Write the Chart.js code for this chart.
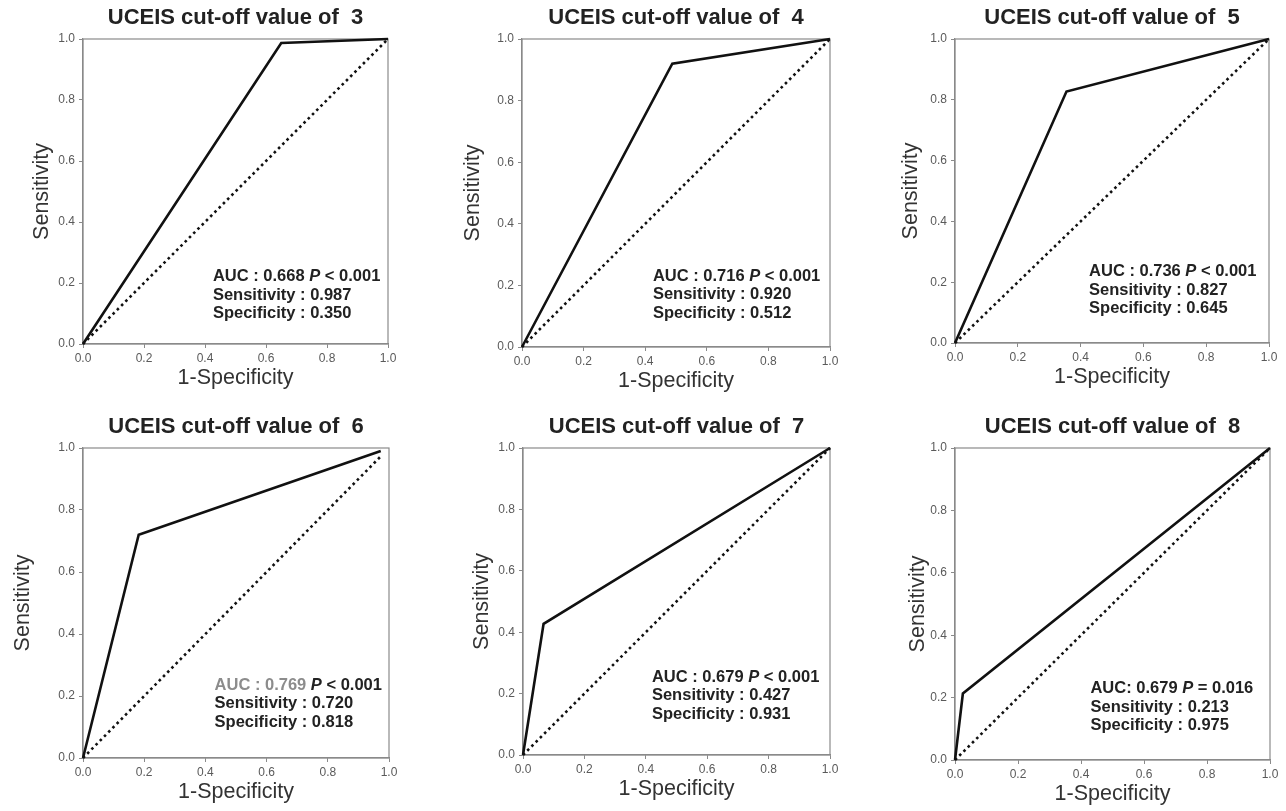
<!DOCTYPE html>
<html>
<head>
<meta charset="utf-8">
<script src="https://cdn.jsdelivr.net/npm/chart.js@4.4.1/dist/chart.umd.min.js"></script>
<style>
  body { margin: 0; background: #fff; overflow: hidden; width: 1286px; height: 811px; }
  .panel { position: absolute; }
</style>
</head>
<body>
<div id="wrap"></div>
<script>
const FONT = "'Liberation Sans', Arial, Helvetica, sans-serif";

// data
const cutoffs = [3, 4, 5, 6, 7, 8];
const rocX = [
  [0, 0.650, 1],
  [0, 0.488, 1],
  [0, 0.355, 1],
  [0, 0.182, 0.973],
  [0, 0.067, 1],
  [0, 0.025, 1]
];
const rocY = [
  [0, 0.987, 1],
  [0, 0.920, 1],
  [0, 0.827, 1],
  [0, 0.720, 0.990],
  [0, 0.427, 1],
  [0, 0.213, 1]
];
const refEnd = [1, 1, 1, 0.975, 1, 1];
const aucLabels = ['AUC : ', 'AUC : ', 'AUC : ', 'AUC : ', 'AUC : ', 'AUC: '];
const aucValues = ['0.668', '0.716', '0.736', '0.769', '0.679', '0.679'];
const pValues = ['< 0.001', '< 0.001', '< 0.001', '< 0.001', '< 0.001', '= 0.016'];
const sensValues = ['0.987', '0.920', '0.827', '0.720', '0.427', '0.213'];
const specValues = ['0.350', '0.512', '0.645', '0.818', '0.931', '0.975'];
const tickValues = [0, 0.2, 0.4, 0.6, 0.8, 1.0];

// layout: plot area in page pixels [left, top, right, bottom]
const plotBox = [
  [83, 39, 388, 344],
  [522, 39, 830, 347],
  [955, 39, 1269, 343],
  [83, 448, 389, 758],
  [523, 448, 830, 755],
  [955, 448, 1270, 760]
];
const yTitleGap = [41, 49, 44, 60, 41, 37];
const notePos = [
  [0.426, 0.22],
  [0.425, 0.23],
  [0.427, 0.234],
  [0.43, 0.235],
  [0.42, 0.254],
  [0.43, 0.228]
];

const Y_AXIS_W = 80, X_AXIS_H = 50, TITLE_H = 39, PAD_R = 15;

const framePlugin = {
  id: 'frame',
  beforeDatasetsDraw(chart) {
    const { ctx, chartArea: a } = chart;
    ctx.save();
    ctx.strokeStyle = '#8a8a8a';
    ctx.lineWidth = 1.2;
    ctx.strokeRect(a.left, a.top, a.right - a.left, a.bottom - a.top);
    ctx.restore();
  }
};

const notePlugin = {
  id: 'note',
  afterDatasetsDraw(chart, args, opts) {
    const i = opts.idx;
    const { ctx, scales } = chart;
    let x0 = scales.x.getPixelForValue(notePos[i][0]);
    let y = scales.y.getPixelForValue(notePos[i][1]);
    const bold = 'bold 16.5px ' + FONT;
    const italic = 'italic bold 16.5px ' + FONT;
    const aucColor = i === 3 ? '#8c8c8c' : '#222';
    const lines = [
      [[aucLabels[i] + aucValues[i] + ' ', bold, aucColor], ['P', italic, '#222'], [' ' + pValues[i], bold, '#222']],
      [['Sensitivity : ' + sensValues[i], bold, '#222']],
      [['Specificity : ' + specValues[i], bold, '#222']]
    ];
    ctx.save();
    ctx.textBaseline = 'middle';
    ctx.textAlign = 'left';
    lines.forEach(segs => {
      let x = x0;
      segs.forEach(s => {
        ctx.font = s[1];
        ctx.fillStyle = s[2];
        ctx.fillText(s[0], x, y);
        x += ctx.measureText(s[0]).width;
      });
      y += 18.5;
    });
    ctx.restore();
  }
};

function axisBase() {
  return {
    type: 'linear',
    min: 0,
    max: 1,
    afterBuildTicks: scale => { scale.ticks = tickValues.map(v => ({ value: v })); },
    ticks: {
      callback: v => Number(v).toFixed(1),
      font: { size: 12, family: FONT },
      color: '#5a5a5a',
      maxRotation: 0,
      autoSkip: false
    },
    grid: { drawOnChartArea: false, drawTicks: true, tickLength: 4, color: '#8a8a8a' },
    border: { color: '#8a8a8a', width: 1.2 }
  };
}

const wrap = document.getElementById('wrap');

cutoffs.forEach((c, i) => {
  const [L, T, R, B] = plotBox[i];
  const div = document.createElement('div');
  div.className = 'panel';
  div.style.left = (L - Y_AXIS_W) + 'px';
  div.style.top = (T - TITLE_H) + 'px';
  div.style.width = (R - L + Y_AXIS_W + PAD_R) + 'px';
  div.style.height = (B - T + TITLE_H + X_AXIS_H) + 'px';
  const canvas = document.createElement('canvas');
  div.appendChild(canvas);
  wrap.appendChild(div);

  const xAxis = axisBase();
  xAxis.ticks.padding = 3;
  xAxis.title = {
    display: true, text: '1-Specificity', color: '#333',
    font: { size: 21.5, family: FONT }, padding: { top: 0, bottom: 3 }
  };
  xAxis.afterFit = s => { s.height = X_AXIS_H; };

  const yAxis = axisBase();
  yAxis.ticks.padding = 4;
  yAxis.title = {
    display: true, text: 'Sensitivity', color: '#333',
    font: { size: 21.5, family: FONT }, padding: { top: 67.1 - yTitleGap[i], bottom: 0 }
  };
  yAxis.afterFit = s => { s.width = Y_AXIS_W; };

  new Chart(canvas, {
    type: 'scatter',
    data: {
      datasets: [{
        data: rocX[i].map((x, k) => ({ x: x, y: rocY[i][k] })),
        showLine: true,
        borderColor: '#111',
        borderWidth: 2.6,
        pointRadius: 0,
        clip: 5
      }, {
        data: [{ x: 0, y: 0 }, { x: refEnd[i], y: refEnd[i] }],
        showLine: true,
        borderColor: '#111',
        borderWidth: 2.6,
        borderDash: [2.6, 3.4],
        pointRadius: 0,
        clip: 5
      }]
    },
    options: {
      responsive: true,
      maintainAspectRatio: false,
      animation: false,
      layout: { padding: { left: 0, right: PAD_R, top: 0, bottom: 0 } },
      scales: { x: xAxis, y: yAxis },
      plugins: {
        legend: { display: false },
        tooltip: { enabled: false },
        title: {
          display: true,
          text: 'UCEIS cut-off value of  ' + c,
          fullSize: false,
          color: '#222',
          font: { size: 22, weight: 'bold', family: FONT },
          padding: { top: 5, bottom: 7.6 }
        },
        note: { idx: i }
      }
    },
    plugins: [framePlugin, notePlugin]
  });
});
</script>
</body>
</html>
